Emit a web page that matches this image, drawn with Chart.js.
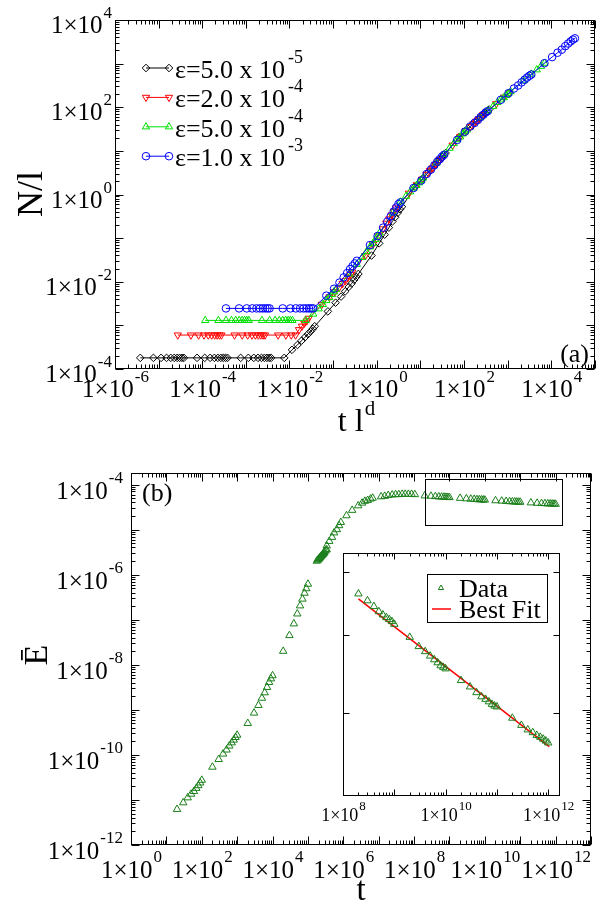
<!DOCTYPE html>
<html>
<head>
<meta charset="utf-8">
<script src="https://cdn.jsdelivr.net/npm/chart.js@4.4.0/dist/chart.umd.min.js"></script>
<style>
  html, body { margin: 0; padding: 0; background: #fff; }
  #page { position: relative; width: 600px; height: 902px; overflow: hidden; }
  canvas { position: absolute; }
</style>
</head>
<body>
<div id="page">
  <canvas id="topChart" width="600" height="451" style="left:0;top:0"></canvas>
  <canvas id="bottomChart" width="600" height="451" style="left:0;top:451px"></canvas>
  <canvas id="insetChart" width="290" height="300" style="left:300px;top:530px"></canvas>
</div>
<script>
// ---- panel (a): N/l against t l^d, one series per epsilon ----
const legendMantissa = ['5.0', '2.0', '5.0', '1.0'];
const legendExponent = ['-5', '-4', '-4', '-3'];

const blackX = [3.8e-6, 7.6e-6, 1.14e-5, 1.52e-5, 1.9e-5, 2.28e-5, 2.66e-5, 3.04e-5, 3.42e-5, 3.8e-5,
  7.6e-5, 1.14e-4, 1.52e-4, 1.9e-4, 2.28e-4, 2.66e-4, 3.04e-4, 3.42e-4, 3.8e-4,
  7.6e-4, 1.14e-3, 1.52e-3, 1.9e-3, 2.28e-3, 2.66e-3, 3.04e-3, 3.42e-3, 3.8e-3,
  7.6e-3, 1.14e-2, 1.52e-2, 1.9e-2, 2.28e-2, 2.66e-2, 3.04e-2, 3.42e-2, 3.8e-2,
  7.6e-2, 0.114, 0.152, 0.19, 0.228, 0.266, 0.304, 0.342, 0.38,
  0.76, 1.14, 1.52, 1.9, 2.28, 2.66, 3.04, 3.42, 3.8,
  7.6, 11.4, 15.2, 19, 22.8, 26.6, 30.4, 34.2, 38,
  76, 114, 152, 190, 228, 266, 304, 342, 380];
const blackY = [1.8e-4, 1.8e-4, 1.8e-4, 1.8e-4, 1.8e-4, 1.8e-4, 1.8e-4, 1.8e-4, 1.8e-4, 1.8e-4,
  1.8e-4, 1.8e-4, 1.8e-4, 1.8e-4, 1.8e-4, 1.8e-4, 1.8e-4, 1.8e-4, 1.8e-4,
  1.8e-4, 1.8e-4, 1.8e-4, 1.8e-4, 1.8e-4, 1.8e-4, 1.8e-4, 1.8e-4, 1.8e-4,
  1.8e-4, 2.75e-4, 3.55e-4, 4.47e-4, 5.37e-4, 6.31e-4, 7.24e-4, 8.32e-4, 9.55e-4,
  2.09e-3, 3.31e-3, 4.57e-3, 6.03e-3, 7.59e-3, 9.12e-3, 1.10e-2, 1.29e-2, 1.51e-2,
  3.98e-2, 7.59e-2, 0.120, 0.174, 0.240, 0.302, 0.380, 0.457, 0.525,
  1.51, 2.34, 3.16, 4.07, 5.01, 5.89, 6.76, 7.94, 8.91,
  20.4, 30.2, 38.9, 47.9, 56.2, 63.1, 72.4, 79.4, 89.1];

const redX = [2.75e-5, 5.5e-5, 8.25e-5, 1.1e-4, 1.38e-4, 1.65e-4, 1.93e-4, 2.2e-4, 2.48e-4, 2.75e-4,
  5.5e-4, 8.25e-4, 1.1e-3, 1.38e-3, 1.65e-3, 1.93e-3, 2.2e-3, 2.48e-3, 2.75e-3,
  5.5e-3, 8.25e-3, 1.1e-2, 1.38e-2, 1.65e-2, 1.93e-2, 2.2e-2, 2.48e-2, 2.75e-2,
  5.5e-2, 8.25e-2, 0.11, 0.138, 0.165, 0.193, 0.22, 0.248, 0.275,
  0.55, 0.825, 1.1, 1.38, 1.65, 1.93, 2.2, 2.48, 2.75,
  5.5, 8.25, 11, 13.8, 16.5, 19.3, 22, 24.8, 27.5,
  55, 82.5, 110, 138, 165, 193, 220, 248, 275,
  550, 825, 1100];
const redY = [6e-4, 6e-4, 6e-4, 6e-4, 6e-4, 6e-4, 6e-4, 6e-4, 6e-4, 6e-4,
  6e-4, 6e-4, 6e-4, 6e-4, 6e-4, 6e-4, 6e-4, 6e-4, 6e-4,
  6e-4, 6e-4, 6e-4, 6e-4, 7.94e-4, 9.55e-4, 1.12e-3, 1.26e-3, 1.45e-3,
  3.02e-3, 4.47e-3, 5.89e-3, 7.41e-3, 9.12e-3, 1.07e-2, 1.26e-2, 1.45e-2, 1.66e-2,
  3.98e-2, 7.24e-2, 0.112, 0.162, 0.219, 0.275, 0.339, 0.407, 0.490,
  1.07, 1.66, 2.24, 2.88, 3.55, 4.07, 4.79, 5.50, 6.31,
  13.5, 21.4, 28.8, 35.5, 41.7, 47.9, 53.7, 60.3, 67.6,
  120, 170, 214];

const greenX = [1.17e-4, 2.34e-4, 3.51e-4, 4.68e-4, 5.85e-4, 7.02e-4, 8.19e-4, 9.36e-4, 1.05e-3, 1.17e-3,
  2.34e-3, 3.51e-3, 4.68e-3, 5.85e-3, 7.02e-3, 8.19e-3, 9.36e-3, 1.05e-2, 1.17e-2,
  2.34e-2, 3.51e-2, 4.68e-2, 5.85e-2, 7.02e-2, 8.19e-2, 9.36e-2, 0.105, 0.117,
  0.234, 0.351, 0.468, 0.585, 0.702, 0.819, 0.936, 1.05, 1.17,
  2.34, 3.51, 4.68, 5.85, 7.02, 8.19, 9.36, 10.5, 11.7,
  23.4, 35.1, 46.8, 58.5, 70.2, 81.9, 93.6, 105, 117,
  234, 351, 468, 585, 702, 819, 936, 1050, 1170,
  2340, 3510, 4680, 5850, 7020];
const greenY = [1.3e-3, 1.3e-3, 1.3e-3, 1.3e-3, 1.3e-3, 1.3e-3, 1.3e-3, 1.3e-3, 1.3e-3, 1.3e-3,
  1.3e-3, 1.3e-3, 1.3e-3, 1.3e-3, 1.3e-3, 1.3e-3, 1.3e-3, 1.3e-3, 1.3e-3,
  1.3e-3, 1.82e-3, 2.40e-3, 3.02e-3, 3.72e-3, 4.37e-3, 5.13e-3, 5.89e-3, 6.76e-3,
  1.51e-2, 2.51e-2, 3.63e-2, 4.90e-2, 6.31e-2, 7.59e-2, 9.33e-2, 0.112, 0.132,
  0.380, 0.676, 0.912, 1.15, 1.41, 1.62, 1.86, 2.09, 2.40,
  5.25, 8.32, 11.5, 14.8, 18.2, 20.9, 24.5, 27.5, 30.2,
  57.5, 83.2, 105, 129, 148, 166, 186, 209, 229,
  407, 575, 724, 871, 1023];

const blueX = [3.5e-4, 7e-4, 1.05e-3, 1.4e-3, 1.75e-3, 2.1e-3, 2.45e-3, 2.8e-3, 3.15e-3, 3.5e-3,
  7e-3, 1.05e-2, 1.4e-2, 1.75e-2, 2.1e-2, 2.45e-2, 2.8e-2, 3.15e-2, 3.5e-2,
  7e-2, 0.105, 0.14, 0.175, 0.21, 0.245, 0.28, 0.315, 0.35,
  0.7, 1.05, 1.4, 1.75, 2.1, 2.45, 2.8, 3.15, 3.5,
  7, 10.5, 14, 17.5, 21, 24.5, 28, 31.5, 35,
  70, 105, 140, 175, 210, 245, 280, 315, 350,
  700, 1050, 1400, 1750, 2100, 2450, 2800, 3150, 3500,
  7000, 10500, 14000, 17500, 21000, 24500, 28000, 31500, 35000];
const blueY = [2.45e-3, 2.45e-3, 2.45e-3, 2.45e-3, 2.45e-3, 2.45e-3, 2.45e-3, 2.45e-3, 2.45e-3, 2.45e-3,
  2.45e-3, 2.45e-3, 2.45e-3, 2.45e-3, 2.45e-3, 2.45e-3, 2.45e-3, 2.45e-3, 2.45e-3,
  4.79e-3, 6.92e-3, 9.55e-3, 1.26e-2, 1.58e-2, 1.95e-2, 2.29e-2, 2.63e-2, 3.02e-2,
  6.92e-2, 0.112, 0.174, 0.240, 0.316, 0.407, 0.501, 0.603, 0.661,
  1.41, 2.09, 2.95, 3.72, 4.68, 5.62, 6.46, 7.41, 8.13,
  17.8, 27.5, 36.3, 43.7, 51.3, 60.3, 67.6, 75.9, 81.3,
  148, 209, 269, 316, 372, 427, 479, 525, 562,
  1023, 1413, 1778, 2089, 2512, 2884, 3236, 3548, 3802];

const topXTickExps = [-6, -4, -2, 0, 2, 4];
const topYTickExps = [-4, -2, 0, 2, 4];

// ---- panel (b): mean energy against t ----
const growthTime = [20, 30, 40, 50, 60, 70, 80, 90, 100,
  200, 300, 400, 500, 600, 700, 800, 900, 1000,
  2000, 3000, 4000, 5000, 6000, 7000, 8000, 9000, 1e4,
  2e4, 3e4, 4e4, 5e4, 6e4, 7e4, 8e4, 9e4, 1e5,
  1.78e5, 1.9e5, 2.0e5, 2.1e5, 2.2e5, 2.3e5, 2.4e5, 2.5e5, 2.6e5, 2.7e5, 2.8e5, 2.9e5, 3.0e5, 3.2e5, 3.39e5,
  3.4e5, 4.0e5, 4.8e5, 5.5e5, 6.6e5, 7.6e5, 8.5e5,
  1.23e6, 1.78e6, 2.63e6, 3.39e6, 4.07e6, 4.9e6, 5.89e6, 6.76e6,
  1.17e7, 1.48e7, 1.86e7, 2.4e7, 3.0e7, 3.7e7, 4.6e7, 5.6e7, 6.9e7, 8.5e7, 1.05e8];
const growthEnergy = [6.2e-12, 8.7e-12, 1.12e-11, 1.35e-11, 1.55e-11, 1.82e-11, 2.09e-11, 2.40e-11, 2.75e-11,
  5.37e-11, 7.94e-11, 1.05e-10, 1.29e-10, 1.58e-10, 1.86e-10, 2.14e-10, 2.45e-10, 2.75e-10,
  5.01e-10, 8.51e-10, 1.26e-9, 1.82e-9, 2.40e-9, 3.16e-9, 4.07e-9, 4.90e-9, 5.75e-9,
  2.0e-8, 4.47e-8, 8.13e-8, 1.35e-7, 2.04e-7, 2.88e-7, 3.89e-7, 4.90e-7, 6.17e-7,
  2.0e-6, 2.1e-6, 2.2e-6, 2.3e-6, 2.4e-6, 2.5e-6, 2.6e-6, 2.7e-6, 2.8e-6, 2.9e-6, 3.0e-6, 3.1e-6, 3.3e-6, 3.5e-6, 3.6e-6,
  4.37e-6, 5.5e-6, 6.76e-6, 8.5e-6, 1.0e-5, 1.23e-5, 1.45e-5,
  2.04e-5, 2.69e-5, 3.39e-5, 3.89e-5, 4.27e-5, 4.47e-5, 4.79e-5, 5.01e-5,
  5.37e-5, 5.5e-5, 5.75e-5, 5.9e-5, 6.0e-5, 6.0e-5, 6.1e-5, 6.1e-5, 6.1e-5, 6.1e-5, 6.0e-5];
// late-time decay, shown in the main panel and in the inset
const lateTime = [2e8, 3e8, 4e8, 5e8, 6e8, 7e8, 8e8, 9e8, 1e9,
  2e9, 3e9, 4e9, 5e9, 6e9, 7e9, 8e9, 9e9, 1e10,
  2e10, 3e10, 4e10, 5e10, 6e10, 7e10, 8e10, 9e10, 1e11,
  2e11, 3e11, 4e11, 5e11, 6e11, 7e11, 8e11, 9e11, 1e12];
const lateEnergy = [5.63e-5, 5.52e-5, 5.43e-5, 5.35e-5, 5.30e-5, 5.26e-5, 5.23e-5, 5.20e-5, 5.16e-5,
  4.97e-5, 4.84e-5, 4.77e-5, 4.71e-5, 4.66e-5, 4.62e-5, 4.58e-5, 4.56e-5, 4.54e-5,
  4.39e-5, 4.31e-5, 4.24e-5, 4.19e-5, 4.16e-5, 4.13e-5, 4.10e-5, 4.08e-5, 4.07e-5,
  3.94e-5, 3.86e-5, 3.81e-5, 3.78e-5, 3.75e-5, 3.73e-5, 3.71e-5, 3.69e-5, 3.67e-5];
const fitTime = [2e8, 1.05e12];
const fitEnergy = [5.55e-5, 3.63e-5];
const zoomBoxTime = [2e8, 1.5e12];
const zoomBoxEnergy = [1.25e-5, 1.34e-4];

const botXTickExps = [0, 2, 4, 6, 8, 10, 12];
const botYTickExps = [-12, -10, -8, -6, -4];
const insetXTickExps = [8, 10, 12];
const insetYTicks = [4e-5, 5e-5, 6e-5];

const FONT = '"Liberation Serif", "Times New Roman", serif';
const CLEAR = 'rgba(0,0,0,0)';
const DARK_GREEN = '#1a7f1a';

function xyPoints(xs, ys) {
    return xs.map((x, i) => ({ x: x, y: ys[i] }));
}

// 1, 2, ... 9 x 10^n inside the scale range
function logTicks(scale) {
    const out = [];
    const lo = Math.floor(Math.log10(scale.min)), hi = Math.ceil(Math.log10(scale.max));
    for (let e = lo; e <= hi; e++) {
        for (let k = 1; k < 10; k++) {
            const v = k * Math.pow(10, e);
            if (v >= scale.min * 0.9999 && v <= scale.max * 1.0001) out.push({ v: v, major: k === 1 });
        }
    }
    return out;
}

// "1x10" with a raised exponent
function drawPow(ctx, x, y, exp, align, px, supPx, rise) {
    const base = '1\u00d710';
    ctx.font = px + 'px ' + FONT;
    const w1 = ctx.measureText(base).width;
    ctx.font = supPx + 'px ' + FONT;
    const w2 = ctx.measureText(exp).width;
    const x0 = align === 'center' ? x - (w1 + w2) / 2 : x - w1 - w2;
    ctx.textAlign = 'left';
    ctx.textBaseline = 'alphabetic';
    ctx.font = px + 'px ' + FONT;
    ctx.fillText(base, x0, y);
    ctx.font = supPx + 'px ' + FONT;
    ctx.fillText(exp, x0 + w1 + 1, y - rise);
}

// frame, inward ticks on all sides, tick labels, and any extra drawing
function frame(cfg) {
    return {
        id: 'frame',
        beforeDatasetsDraw(chart) {
            if (!cfg.whiteBack) return;
            const a = chart.chartArea, ctx = chart.ctx;
            ctx.save();
            ctx.fillStyle = '#fff';
            ctx.fillRect(a.left, a.top, a.right - a.left, a.bottom - a.top);
            ctx.restore();
        },
        afterDraw(chart) {
            const ctx = chart.ctx, a = chart.chartArea;
            const xs = chart.scales.x, ys = chart.scales.y;
            const L = Math.round(a.left) + 0.5, R = Math.round(a.right) - 0.5;
            const T = Math.round(a.top) + 0.5, B = Math.round(a.bottom) - 0.5;
            ctx.save();
            ctx.strokeStyle = '#000';
            ctx.lineWidth = 1;
            ctx.beginPath();
            logTicks(xs).forEach(t => {
                const p = Math.round(xs.getPixelForValue(t.v)) + 0.5;
                const n = t.major ? cfg.major : cfg.minor;
                ctx.moveTo(p, B); ctx.lineTo(p, B - n);
                ctx.moveTo(p, T); ctx.lineTo(p, T + n);
            });
            const yt = cfg.yTicks ? cfg.yTicks.map(v => ({ v: v, major: true })) : logTicks(ys);
            yt.forEach(t => {
                const p = Math.round(ys.getPixelForValue(t.v)) + 0.5;
                const n = t.major ? cfg.major : cfg.minor;
                ctx.moveTo(L, p); ctx.lineTo(L + n, p);
                ctx.moveTo(R, p); ctx.lineTo(R - n, p);
            });
            ctx.stroke();
            ctx.strokeRect(L, T, R - L, B - T);
            ctx.fillStyle = '#000';
            cfg.xLabels.forEach(e => {
                drawPow(ctx, xs.getPixelForValue(Math.pow(10, e)), a.bottom + cfg.xDy, String(e), 'center', cfg.px, cfg.supPx, cfg.rise);
            });
            cfg.yLabels.forEach(e => {
                drawPow(ctx, a.left - cfg.yDx, ys.getPixelForValue(Math.pow(10, e)) + cfg.yDy, String(e), 'right', cfg.px, cfg.supPx, cfg.rise);
            });
            if (cfg.extra) cfg.extra(ctx, a, xs, ys);
            ctx.restore();
        }
    };
}

function marker(ctx, style, rot, r, color, x, y) {
    ctx.strokeStyle = color;
    ctx.fillStyle = CLEAR;
    ctx.lineWidth = 1;
    Chart.helpers.drawPoint(ctx, { pointStyle: style, rotation: rot, radius: r, borderWidth: 1 }, x, y);
}

function logAxis(min, max, sizeKey, size) {
    return {
        type: 'logarithmic', min: min, max: max,
        grid: { display: false }, border: { display: false }, ticks: { display: false },
        afterFit(s) { s[sizeKey] = size; }
    };
}

const topSeries = [
    { x: blackX, y: blackY, color: '#000000', style: 'rectRot', rot: 0, r: 3.8 },
    { x: redX, y: redY, color: '#ff0000', style: 'triangle', rot: 180, r: 4.2 },
    { x: greenX, y: greenY, color: '#00e000', style: 'triangle', rot: 0, r: 4.2 },
    { x: blueX, y: blueY, color: '#0000ff', style: 'circle', rot: 0, r: 3.8 }
];

// ---- top chart ----
new Chart(document.getElementById('topChart'), {
    type: 'scatter',
    data: {
        datasets: topSeries.map((s, i) => ({
            data: xyPoints(s.x, s.y),
            showLine: true,
            borderColor: s.color,
            borderWidth: 1,
            pointStyle: s.style,
            pointRotation: s.rot,
            pointRadius: s.r,
            pointBorderColor: s.color,
            pointBackgroundColor: CLEAR,
            pointBorderWidth: 1,
            order: 3 - i
        }))
    },
    options: {
        responsive: false,
        animation: false,
        layout: { padding: { left: 0, right: 3, top: 20, bottom: 0 } },
        plugins: { legend: { display: false }, tooltip: { enabled: false } },
        scales: {
            x: logAxis(1e-6, 1e5, 'height', 82),
            y: logAxis(1e-4, 1e4, 'width', 115)
        }
    },
    plugins: [frame({
        major: 8, minor: 4, px: 25, supPx: 17, rise: 15,
        xLabels: topXTickExps, yLabels: topYTickExps,
        xDy: 28, yDx: 4, yDy: 13,
        extra(ctx, a) {
            // legend
            topSeries.forEach((s, i) => {
                const by = 78 + 29.4 * i, sy = by - 10;
                ctx.strokeStyle = s.color;
                ctx.lineWidth = 1;
                ctx.beginPath(); ctx.moveTo(146, sy); ctx.lineTo(169, sy); ctx.stroke();
                marker(ctx, s.style, s.rot, s.r, s.color, 146, sy);
                marker(ctx, s.style, s.rot, s.r, s.color, 169, sy);
                ctx.fillStyle = '#000';
                ctx.textAlign = 'left';
                ctx.font = '26px ' + FONT;
                const txt = '\u03b5=' + legendMantissa[i] + ' x 10';
                ctx.fillText(txt, 175, by);
                const w = ctx.measureText(txt).width;
                ctx.font = '18px ' + FONT;
                ctx.fillText(legendExponent[i], 175 + w + 3, by - 15);
            });
            ctx.fillStyle = '#000';
            ctx.font = '26px ' + FONT;
            ctx.textAlign = 'right';
            ctx.fillText('(a)', 589, 362);
            // x title: t l^d
            ctx.textAlign = 'left';
            ctx.font = '32px ' + FONT;
            const tw = ctx.measureText('t l').width;
            ctx.font = '21px ' + FONT;
            const dw = ctx.measureText('d').width;
            const x0 = 356 - (tw + dw) / 2;
            ctx.font = '32px ' + FONT;
            ctx.fillText('t l', x0, 431);
            ctx.font = '21px ' + FONT;
            ctx.fillText('d', x0 + tw + 1, 415);
            // y title
            ctx.save();
            ctx.translate(42, 194);
            ctx.rotate(-Math.PI / 2);
            ctx.textAlign = 'center';
            ctx.font = '36px ' + FONT;
            ctx.fillText('N/l', 0, 0);
            ctx.restore();
        }
    })]
});

// ---- bottom chart ----
new Chart(document.getElementById('bottomChart'), {
    type: 'scatter',
    data: {
        datasets: [{
            data: xyPoints(growthTime.concat(lateTime), growthEnergy.concat(lateEnergy)),
            showLine: false,
            pointStyle: 'triangle',
            pointRadius: 4.3,
            pointBorderColor: DARK_GREEN,
            pointBackgroundColor: CLEAR,
            pointBorderWidth: 1
        }]
    },
    options: {
        responsive: false,
        animation: false,
        layout: { padding: { left: 0, right: 9, top: 22, bottom: 0 } },
        plugins: { legend: { display: false }, tooltip: { enabled: false } },
        scales: {
            x: logAxis(1, 1e13, 'height', 57),
            y: logAxis(1e-12, 1.8e-4, 'width', 131)
        }
    },
    plugins: [frame({
        major: 8, minor: 4, px: 25, supPx: 17, rise: 16,
        xLabels: botXTickExps, yLabels: botYTickExps,
        xDy: 33, yDx: 9, yDy: 14,
        extra(ctx, a, xs, ys) {
            // zoom box around the late-time data
            const bx0 = Math.round(xs.getPixelForValue(zoomBoxTime[0])) + 0.5;
            const bx1 = Math.round(xs.getPixelForValue(zoomBoxTime[1])) + 0.5;
            const by0 = Math.round(ys.getPixelForValue(zoomBoxEnergy[1])) + 0.5;
            const by1 = Math.round(ys.getPixelForValue(zoomBoxEnergy[0])) + 0.5;
            ctx.strokeStyle = '#000';
            ctx.lineWidth = 1;
            ctx.strokeRect(bx0, by0, bx1 - bx0, by1 - by0);
            ctx.fillStyle = '#000';
            ctx.font = '26px ' + FONT;
            ctx.textAlign = 'left';
            ctx.fillText('(b)', 142, 50);
            ctx.font = '33px ' + FONT;
            ctx.textAlign = 'center';
            ctx.fillText('t', 361, 449);
            ctx.save();
            ctx.translate(47, 204);
            ctx.rotate(-Math.PI / 2);
            ctx.textAlign = 'center';
            ctx.font = '34px ' + FONT;
            ctx.fillText('\u0112', 0, 0);
            ctx.restore();
        }
    })]
});

// ---- inset ----
new Chart(document.getElementById('insetChart'), {
    type: 'scatter',
    data: {
        datasets: [{
            data: xyPoints(lateTime, lateEnergy),
            showLine: false,
            pointStyle: 'triangle',
            pointRadius: 4.3,
            pointBorderColor: DARK_GREEN,
            pointBackgroundColor: CLEAR,
            pointBorderWidth: 1,
            order: 0
        }, {
            data: xyPoints(fitTime, fitEnergy),
            showLine: true,
            borderColor: '#ff0000',
            borderWidth: 1.5,
            pointRadius: 0,
            order: 1
        }]
    },
    options: {
        responsive: false,
        animation: false,
        layout: { padding: { left: 0, right: 30, top: 23, bottom: 0 } },
        plugins: { legend: { display: false }, tooltip: { enabled: false } },
        scales: {
            x: logAxis(1e8, 1.7e12, 'height', 34),
            y: logAxis(3.15e-5, 6.33e-5, 'width', 43)
        }
    },
    plugins: [frame({
        whiteBack: true,
        major: 6, minor: 3, px: 18, supPx: 13, rise: 11,
        xLabels: insetXTickExps, yLabels: [], yTicks: insetYTicks,
        xDy: 25, yDx: 0, yDy: 0,
        extra(ctx) {
            ctx.fillStyle = '#fff';
            ctx.fillRect(127, 44, 120, 48);
            ctx.strokeStyle = '#000';
            ctx.lineWidth = 1;
            ctx.strokeRect(127.5, 44.5, 120, 48);
            marker(ctx, 'triangle', 0, 3, DARK_GREEN, 141, 58);
            ctx.strokeStyle = '#ff0000';
            ctx.lineWidth = 1.5;
            ctx.beginPath(); ctx.moveTo(132, 79); ctx.lineTo(151, 79); ctx.stroke();
            ctx.fillStyle = '#000';
            ctx.font = '26px ' + FONT;
            ctx.textAlign = 'left';
            ctx.fillText('Data', 159, 67);
            ctx.fillText('Best Fit', 159, 88);
        }
    })]
});
</script>
</body>
</html>
